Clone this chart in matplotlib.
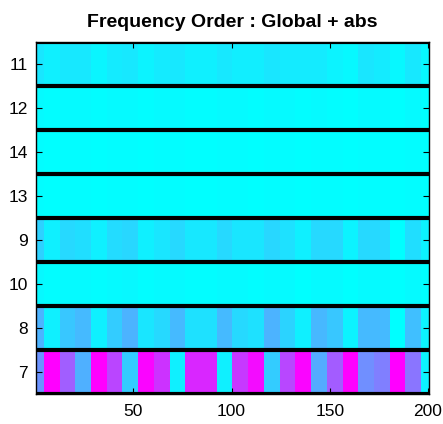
import numpy as np
import matplotlib
matplotlib.use("Agg")
import matplotlib.pyplot as plt

plt.rcParams['font.family'] = ['Liberation Sans', 'DejaVu Sans']

# Row labels, top to bottom
row_labels = ["11", "12", "14", "13", "9", "10", "8", "7"]

# Number of columns covered by each block (x runs 1..200)
block_widths = [4] + [8] * 24 + [4]

# Block values per row (colour scale 0 = cyan, 1 = magenta)
row_11 = [0.10, 0.06, 0.09, 0.09, 0.04, 0.08, 0.09, 0.05, 0.08, 0.09, 0.06, 0.06, 0.09,
          0.07, 0.07, 0.10, 0.08, 0.08, 0.08, 0.05, 0.03, 0.10, 0.08, 0.03, 0.09, 0.03]
row_12 = [0.02, 0.01, 0.02, 0.02, 0.01, 0.02, 0.02, 0.01, 0.02, 0.02, 0.01, 0.01, 0.02,
          0.02, 0.01, 0.02, 0.02, 0.01, 0.02, 0.01, 0.00, 0.02, 0.02, 0.00, 0.02, 0.00]
row_14 = [0.01, 0.00, 0.01, 0.01, 0.00, 0.01, 0.01, 0.00, 0.01, 0.01, 0.00, 0.00, 0.01,
          0.01, 0.00, 0.01, 0.01, 0.00, 0.01, 0.01, 0.00, 0.01, 0.01, 0.00, 0.01, 0.00]
row_13 = [0.01, 0.00, 0.01, 0.01, 0.00, 0.01, 0.01, 0.00, 0.01, 0.01, 0.00, 0.00, 0.01,
          0.01, 0.00, 0.01, 0.01, 0.00, 0.01, 0.01, 0.00, 0.01, 0.01, 0.00, 0.01, 0.00]
row_9 = [0.18, 0.06, 0.15, 0.13, 0.06, 0.14, 0.16, 0.06, 0.10, 0.15, 0.09, 0.09, 0.15,
         0.10, 0.10, 0.16, 0.12, 0.06, 0.15, 0.15, 0.05, 0.15, 0.15, 0.00, 0.13, 0.05]
row_10 = [0.03, 0.01, 0.02, 0.02, 0.01, 0.02, 0.03, 0.01, 0.02, 0.02, 0.01, 0.01, 0.02,
          0.02, 0.01, 0.02, 0.02, 0.00, 0.02, 0.02, 0.00, 0.02, 0.02, 0.00, 0.02, 0.00]
row_8 = [0.30, 0.06, 0.22, 0.27, 0.06, 0.20, 0.30, 0.10, 0.15, 0.27, 0.12, 0.12, 0.27,
         0.15, 0.12, 0.30, 0.17, 0.06, 0.28, 0.22, 0.05, 0.27, 0.27, 0.00, 0.25, 0.05]
row_7 = [0.42, 1.00, 0.63, 0.31, 1.00, 0.73, 0.20, 0.98, 0.80, 0.06, 0.85, 0.85, 0.06,
         0.78, 0.95, 0.20, 0.72, 0.98, 0.33, 0.64, 1.00, 0.44, 0.50, 1.00, 0.54, 0.05]

rows = [row_11, row_12, row_14, row_13, row_9, row_10, row_8, row_7]
matrix = np.array([np.repeat(r, block_widths) for r in rows])
n_rows, n_cols = matrix.shape

x_ticks = [50, 100, 150, 200]

fig = plt.figure(figsize=(4.43, 4.24), dpi=100)
ax = fig.add_axes([36 / 443, 30 / 424, 393 / 443, 352 / 424])
ax.imshow(matrix, cmap="cool", vmin=0, vmax=1, aspect="auto",
          interpolation="nearest",
          extent=(0.5, n_cols + 0.5, n_rows + 0.5, 0.5))

# black separators between rows
for k in range(n_rows + 1):
    ax.axhline(k + 0.5, color="black", lw=3.0)

ax.set_xlim(0.5, n_cols + 0.5)
ax.set_ylim(n_rows + 0.5, 0.5)
ax.set_yticks(np.arange(1, n_rows + 1))
ax.set_yticklabels(row_labels)
ax.set_xticks(x_ticks)
ax.set_xticklabels([str(t) for t in x_ticks])
ax.tick_params(direction="in", length=4, width=0.8, labelsize=12.5,
               top=True, right=True, colors="black")
ax.tick_params(axis="x", pad=7)
ax.tick_params(axis="y", pad=6)
for s in ax.spines.values():
    s.set_linewidth(1.0)
ax.set_title("Frequency Order : Global + abs", fontsize=14,
             fontweight="bold", pad=11)

fig.savefig("out.png", dpi=100)
